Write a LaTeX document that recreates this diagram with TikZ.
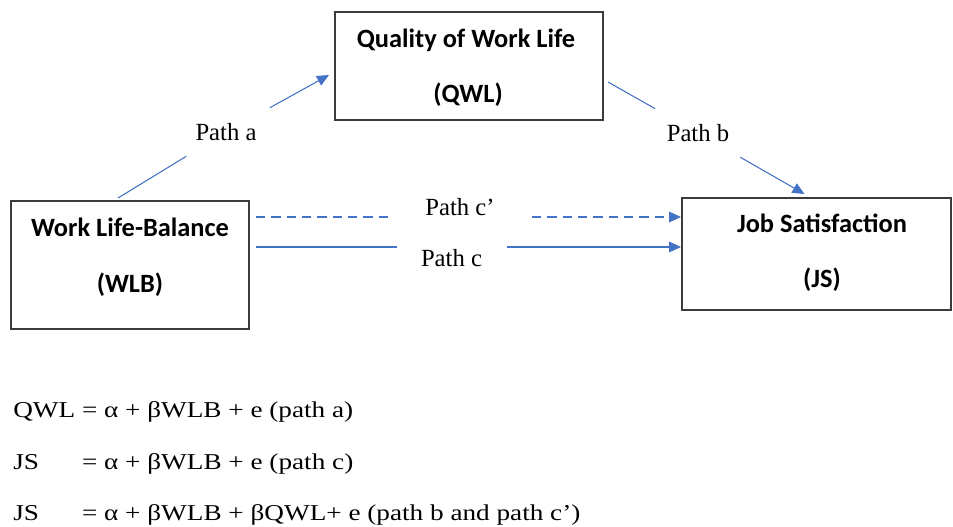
\documentclass[tikz,border=0pt]{standalone}
\usepackage{fontspec}
\setmainfont{Liberation Serif}
\newfontfamily\calfont{Carlito}
\usepackage{graphicx}
\usepackage{tikz}
\usetikzlibrary{arrows.meta}
\usetikzlibrary{math}

\definecolor{linkblue}{RGB}{68,114,196}
\definecolor{boxgray}{RGB}{60,60,60}

\tikzset{
    varbox/.style={draw=boxgray, line width=1.5pt, inner sep=0pt},
    boxtext/.style={font=\calfont\bfseries\fontsize{19.8}{24}\selectfont, anchor=base},
    pathlabel/.style={font=\fontsize{18.5}{22}\selectfont, inner sep=0pt, minimum width=66pt, minimum height=36pt},
    gaplabel/.style={font=\fontsize{18.5}{22}\selectfont, fill=white, inner sep=0pt, minimum height=21pt},
    linkline/.style={draw=linkblue, line width=0.8pt},
    linkhead/.style={-{Triangle[length=9pt, width=8pt]}},
    eqline/.style={font=\fontsize{17}{20}\selectfont, anchor=base west, inner sep=0pt},
}
\newcommand{\eqstretch}[1]{\scalebox{1.2}[1]{#1}}

\begin{document}
\begin{tikzpicture}[x=0.75pt, y=-0.75pt]
    \useasboundingbox (0,0) rectangle (953,527);
    \tikzmath{%
        %% 方框尺寸(像素)
        \wlbW = 238; \wlbH = 128;
        \qwlW = 268; \qwlH = 108;
        \jsW = 269;  \jsH = 112;
    };
    %% 三个方框
    \node[varbox, minimum width={\wlbW*0.75pt}, minimum height={\wlbH*0.75pt}] (wlb) at (130,265) {};
    \node[varbox, minimum width={\qwlW*0.75pt}, minimum height={\qwlH*0.75pt}] (qwl) at (469,66) {};
    \node[varbox, minimum width={\jsW*0.75pt}, minimum height={\jsH*0.75pt}] (js) at (816.5,254) {};
    \node[boxtext] (wlbname) at (130,237) {Work Life-Balance};
    \node[boxtext] (wlbabbr) at (130,292) {(WLB)};
    \node[boxtext] (qwlname) at (466,48) {Quality of Work Life};
    \node[boxtext] (qwlabbr) at (468,103) {(QWL)};
    \node[boxtext] (jsname) at (822,233) {Job Satisfaction};
    \node[boxtext] (jsabbr) at (822,288) {(JS)};
    %% 路径 a 和 b
    \node[pathlabel] (patha) at (226,132) {Path a};
    \node[pathlabel] (pathb) at (698,133) {Path b};
    \draw[linkline] ([xshift=-9pt, yshift=1.5pt]wlb.north) -- (patha);
    \draw[linkline, linkhead] (patha) -- ([xshift=-3.75pt, yshift=-6.75pt]qwl.west);
    \draw[linkline] ([xshift=3pt, yshift=-12pt]qwl.east) -- (pathb);
    \draw[linkline, linkhead] (pathb) -- ([xshift=-9pt, yshift=2.25pt]js.north);
    %% 路径 c' 和 c
    \coordinate (cpstart) at ([xshift=4.5pt, yshift=36pt]wlb.east);
    \coordinate (cstart) at ([xshift=4.5pt, yshift=13.5pt]wlb.east);
    \draw[linkline, linkhead, line width=1.1pt, dash pattern=on 7pt off 4.5pt] (cpstart) -- (cpstart -| js.west)
        node[gaplabel, pos=0.48, yshift=7.5pt, minimum width=102pt] (pathcp) {Path c’};
    \draw[linkline, linkhead] (cstart) -- (cstart -| js.west)
        node[gaplabel, pos=0.46, yshift=-8.25pt, minimum width=82.5pt] (pathc) {Path c};
    %% 方程
    \node[eqline] (eqqwl) at (13,417) {\eqstretch{QWL = α + βWLB + e (path a)}};
    \node[eqline] (eqjs) at (13,469) {\eqstretch{\makebox[43pt][l]{JS}= α + βWLB + e (path c)}};
    \node[eqline] (eqjsfull) at (13,520) {\eqstretch{\makebox[43pt][l]{JS}= α + βWLB + βQWL+ e (path b and path c’)}};
\end{tikzpicture}
\end{document}
